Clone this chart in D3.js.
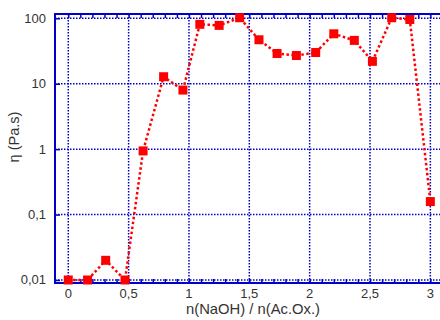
<!DOCTYPE html>
<html>
<head>
<meta charset="utf-8">
<script src="https://cdn.jsdelivr.net/npm/d3@7"></script>
<style>
  html, body { margin: 0; padding: 0; background: #fff; }
  svg { display: block; font-family: "Liberation Sans", Arial, sans-serif; }
</style>
</head>
<body>
<svg id="chart" width="440" height="320"></svg>
<script>
// ---- data ----
const ratio = [0, 0.16, 0.31, 0.47, 0.62, 0.79, 0.95, 1.09, 1.25, 1.42, 1.58, 1.73, 1.89, 2.05, 2.2, 2.37, 2.52, 2.68, 2.83, 3.0];
const viscosity = [0.01, 0.01, 0.02, 0.01, 0.94, 12.8, 8.0, 81, 78, 102, 47, 29, 27, 30, 58, 46, 22, 102, 96, 0.158];
const xTicks = [0, 0.5, 1, 1.5, 2, 2.5, 3];
const xTickLabels = ["0", "0,5", "1", "1,5", "2", "2,5", "3"];
const yTicks = [0.01, 0.1, 1, 10, 100];
const yTickLabels = ["0,01", "0,1", "1", "10", "100"];
const xTitle = "n(NaOH) / n(Ac.Ox.)";
const yTitle = "η (Pa.s)";

(function () {
// ---- layout ----
const pl = 55, pr = 440, pt = 14, pb = 283;
const svg = d3.select("#chart");

const x = d3.scaleLinear().domain([-0.11, 3.08]).range([pl, pr]);
const y = d3.scaleLog().domain([Math.pow(10, -2.046), Math.pow(10, 2.066)]).range([pb, pt]);

const blue = "#0000c8";

// grid
const grid = svg.append("g");
grid.selectAll("line.vx").data(xTicks).join("line")
  .attr("x1", d => x(d)).attr("x2", d => x(d))
  .attr("y1", pt).attr("y2", pb)
  .attr("stroke", blue).attr("stroke-width", 1.5).attr("stroke-dasharray", "1.5,1.5");
grid.selectAll("line.hy").data(yTicks).join("line")
  .attr("x1", pl).attr("x2", pr)
  .attr("y1", d => y(d)).attr("y2", d => y(d))
  .attr("stroke", blue).attr("stroke-width", 1.5).attr("stroke-dasharray", "1.5,1.5");

// minor x ticks (every 0.1), inward, top & bottom
const minor = d3.range(0, 31).map(i => i / 10);
const axisB = d3.axisBottom(x).tickValues(minor).tickSize(-4).tickFormat("");
const axisT = d3.axisTop(x).tickValues(minor).tickSize(-4).tickFormat("");
const gb = svg.append("g").attr("transform", `translate(0,${pb})`).call(axisB);
const gt = svg.append("g").attr("transform", `translate(0,${pt})`).call(axisT);
[gb, gt].forEach(g => {
  g.select(".domain").remove();
  g.selectAll(".tick line").attr("stroke", blue).attr("stroke-width", 1.5);
});

// y major ticks inward
const axisL = d3.axisLeft(y).tickValues(yTicks).tickSize(-5).tickFormat("");
const gl = svg.append("g").attr("transform", `translate(${pl},0)`).call(axisL);
gl.select(".domain").remove();
gl.selectAll(".tick line").attr("stroke", blue).attr("stroke-width", 1.5);

// frame (left, top, bottom)
svg.append("path")
  .attr("d", `M${pr},${pt}H${pl}V${pb}H${pr}`)
  .attr("fill", "none").attr("stroke", blue).attr("stroke-width", 2);

// tick labels
svg.append("g").selectAll("text").data(xTicks).join("text")
  .attr("x", (d) => x(d)).attr("y", 298)
  .attr("text-anchor", "middle").attr("font-size", 13).attr("fill", "#333")
  .text((d, i) => xTickLabels[i]);
svg.append("g").selectAll("text").data(yTicks).join("text")
  .attr("x", 46).attr("y", d => y(d) + 4.5)
  .attr("text-anchor", "end").attr("font-size", 13).attr("fill", "#333")
  .text((d, i) => yTickLabels[i]);

// axis titles
svg.append("text").attr("x", 253).attr("y", 314)
  .attr("text-anchor", "middle").attr("font-size", 14.8).attr("fill", "#333")
  .text(xTitle);
svg.append("text").attr("transform", "translate(19,137) rotate(-90)")
  .attr("text-anchor", "middle").attr("font-size", 14.5).attr("fill", "#333")
  .text(yTitle);

// data line
const pts = ratio.map((r, i) => [r, viscosity[i]]);
svg.append("path").datum(pts)
  .attr("d", d3.line().x(d => x(d[0])).y(d => y(d[1])))
  .attr("fill", "none").attr("stroke", "#ff0000").attr("stroke-width", 2.5)
  .attr("stroke-dasharray", "2.5,2.5");

// markers
const ms = 9;
svg.append("g").selectAll("rect").data(pts).join("rect")
  .attr("x", d => x(d[0]) - ms / 2).attr("y", d => y(d[1]) - ms / 2)
  .attr("width", ms).attr("height", ms).attr("fill", "#ff0000");
})();
</script>
</body>
</html>
